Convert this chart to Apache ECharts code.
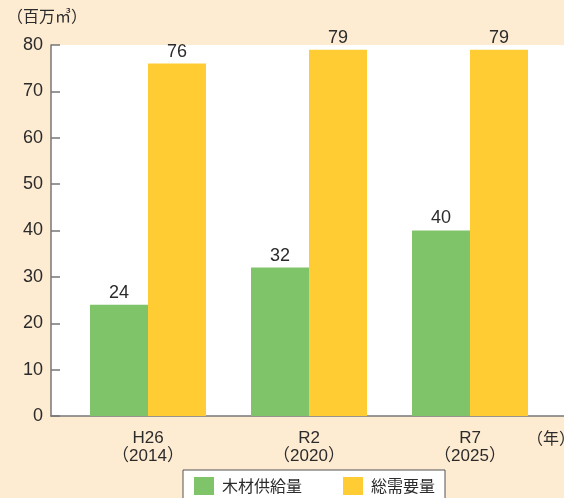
<!DOCTYPE html>
<html>
<head>
<meta charset="utf-8">
<script src="https://cdn.jsdelivr.net/npm/echarts@6/dist/echarts.min.js"></script>
<style>
html,body{margin:0;padding:0;background:#FDEBD2;}
#chart{width:564px;height:498px;}
</style>
</head>
<body>
<div id="chart"></div>
<script>
const categories = ['H26\n（2014）', 'R2\n（2020）', 'R7\n（2025）'];
const supplyName = '木材供給量';
const demandName = '総需要量';
const supplyValues = [24, 32, 40];
const demandValues = [76, 79, 79];
const yTicks = [0, 80, 10];

const FONT = '"Liberation Sans", "Noto Sans CJK JP", sans-serif';
const TXT = '#2b2b2b';

const chart = echarts.init(document.getElementById('chart'));
chart.setOption({
  backgroundColor: '#FDEBD2',
  animation: false,
  textStyle: { fontFamily: FONT, color: TXT },
  grid: [
    { left: 67.5, right: 13.5, top: 45, bottom: 82, containLabel: false },
    { left: 51, right: 0, top: 45, bottom: 82, show: true, backgroundColor: '#ffffff', borderWidth: 0, z: 0 }
  ],
  legend: {
    top: 470,
    left: 183,
    padding: [7, 10, 12, 11],
    backgroundColor: '#ffffff',
    borderColor: '#555555',
    borderWidth: 1,
    itemWidth: 20,
    itemHeight: 18,
    itemGap: 41,
    icon: 'rect',
    textStyle: { fontSize: 16, color: TXT, fontFamily: '"Noto Sans CJK JP", sans-serif', padding: [0, 0, 0, 3] },
    data: [supplyName, demandName]
  },
  graphic: [
    { type: 'text', left: 7, top: 8, style: { text: '（百万㎥）', fontSize: 16, fill: TXT, fontFamily: '"Noto Sans CJK JP", sans-serif' } },
    { type: 'text', left: 527, top: 430, style: { text: '（年）', fontSize: 16, fill: TXT, fontFamily: '"Noto Sans CJK JP", sans-serif' } }
  ],
  xAxis: [
    {
      gridIndex: 0, type: 'category', data: categories,
      axisLine: { show: false }, axisTick: { show: false },
      axisLabel: { fontSize: 17, color: TXT, lineHeight: 18, margin: 13, fontFamily: FONT }
    },
    {
      gridIndex: 1, type: 'category', data: [''],
      axisLine: { show: true, lineStyle: { color: '#777777', width: 1.5 } },
      axisTick: { show: false }, axisLabel: { show: false }
    }
  ],
  yAxis: [
    { gridIndex: 0, type: 'value', min: yTicks[0], max: yTicks[1], interval: yTicks[2], show: false, splitLine: { show: false } },
    {
      gridIndex: 1, type: 'value', min: yTicks[0], max: yTicks[1], interval: yTicks[2],
      axisLine: { show: true, lineStyle: { color: '#777777', width: 1.5 } },
      axisTick: { show: true, inside: true, length: 9, lineStyle: { color: '#777777', width: 1.5 } },
      axisLabel: { fontSize: 18, color: TXT, margin: 8, fontFamily: FONT },
      splitLine: { show: false }
    }
  ],
  series: [
    {
      name: supplyName, type: 'bar', xAxisIndex: 0, yAxisIndex: 0,
      data: supplyValues, barWidth: 58, barGap: '0%',
      itemStyle: { color: '#80C46A' },
      label: { show: true, position: 'top', distance: 3, fontSize: 18, color: TXT, fontFamily: FONT }
    },
    {
      name: demandName, type: 'bar', xAxisIndex: 0, yAxisIndex: 0,
      data: demandValues, barWidth: 58, barGap: '0%',
      itemStyle: { color: '#FFCD33' },
      label: { show: true, position: 'top', distance: 3, fontSize: 18, color: TXT, fontFamily: FONT }
    }
  ]
});
</script>
</body>
</html>
